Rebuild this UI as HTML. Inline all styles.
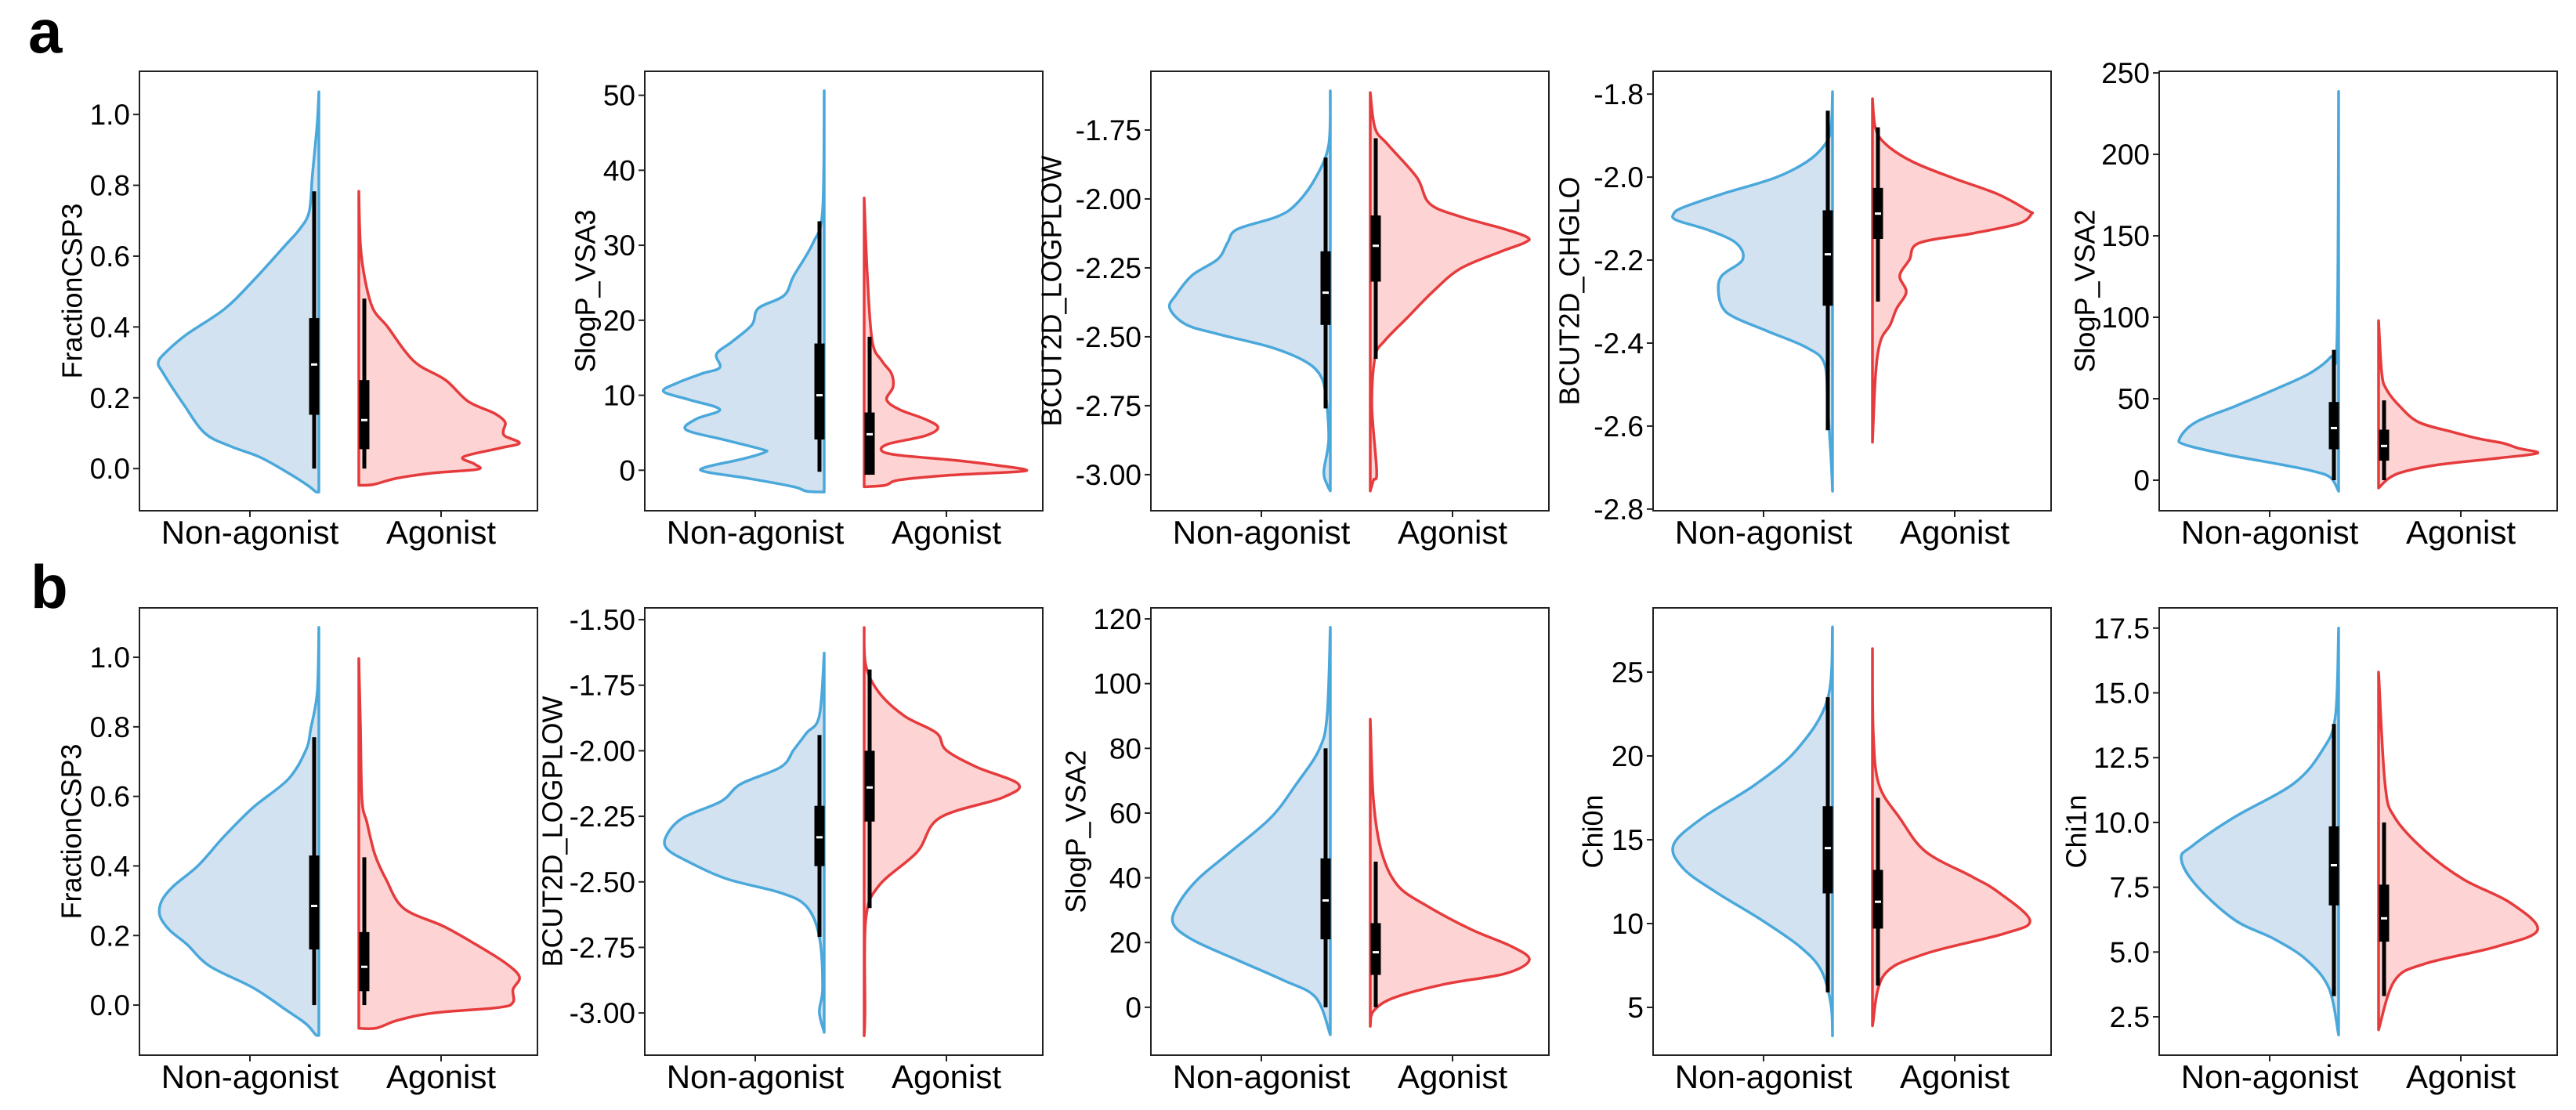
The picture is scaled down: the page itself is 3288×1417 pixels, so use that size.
<!DOCTYPE html>
<html><head><meta charset="utf-8"><style>
html,body{margin:0;padding:0;background:#fff;}
svg{display:block;}
text{font-family:"Liberation Sans",Arial,sans-serif;fill:#000;}
</style></head><body>
<svg id="fig" xmlns="http://www.w3.org/2000/svg" width="3288" height="1417" viewBox="0 0 3288 1417">
<text x="36" y="67" font-size="78" font-weight="bold">a</text>
<text x="39" y="776" font-size="78" font-weight="bold">b</text>
</svg>
<script>
// ---- data: categories, y labels, ticks, density profiles [value, relative width], box stats [lo, q1, med, q3, hi]
const categories = ["Non-agonist", "Agonist"];
const yLabels = ["FractionCSP3","SlogP_VSA3","BCUT2D_LOGPLOW","BCUT2D_CHGLO","SlogP_VSA2","FractionCSP3","BCUT2D_LOGPLOW","SlogP_VSA2","Chi0n","Chi1n"];
const yDomains = [[-0.119,1.122],[-5.4,53.2],[-3.131,-1.537],[-2.804,-1.745],[-18.75,251],[-0.144,1.142],[-3.161,-1.455],[-14.8,123.4],[2.15,28.83],[1.02,18.28]];
const tickValues = [
 [0,0.2,0.4,0.6,0.8,1.0],[0,10,20,30,40,50],[-3,-2.75,-2.5,-2.25,-2,-1.75],[-2.8,-2.6,-2.4,-2.2,-2.0,-1.8],[0,50,100,150,200,250],
 [0,0.2,0.4,0.6,0.8,1.0],[-3,-2.75,-2.5,-2.25,-2,-1.75,-1.5],[0,20,40,60,80,100,120],[5,10,15,20,25],[2.5,5,7.5,10,12.5,15,17.5]];
const tickDecimals = [1,0,2,1,0,1,2,0,0,1];
const blueProfiles = [
 [[1.064,0],[0.976,0.01],[0.83,0.04],[0.726,0.06],[0.676,0.12],[0.63,0.21],[0.53,0.41],[0.45,0.59],[0.38,0.82],[0.33,0.95],[0.30,1.0],[0.27,0.97],[0.18,0.84],[0.10,0.71],[0.063,0.55],[0.033,0.37],[-0.007,0.21],[-0.047,0.07],[-0.065,0.02],[-0.066,0]],
 [[50.6,0],[34.7,0.01],[30.3,0.07],[25.9,0.19],[23.3,0.25],[21.6,0.41],[19.4,0.45],[17.2,0.57],[15.5,0.67],[13.7,0.65],[12.9,0.76],[11.6,0.92],[10.5,1.0],[9.4,0.84],[8.1,0.65],[6.8,0.80],[5.4,0.86],[4.1,0.63],[2.8,0.39],[2.4,0.37],[1.5,0.51],[0.4,0.74],[-0.2,0.74],[-1.1,0.47],[-2.2,0.19],[-2.8,0.11],[-2.9,0]],
 [[-1.608,0],[-1.803,0.01],[-1.922,0.09],[-2.017,0.21],[-2.064,0.33],[-2.11,0.58],[-2.159,0.64],[-2.218,0.70],[-2.277,0.86],[-2.348,0.96],[-2.396,1.0],[-2.455,0.9],[-2.49,0.70],[-2.538,0.37],[-2.585,0.17],[-2.633,0.07],[-2.704,0.03],[-2.87,0.01],[-2.988,0.04],[-3.036,0.02],[-3.059,0]],
 [[-1.794,0],[-1.884,0.01],[-1.923,0.05],[-1.963,0.16],[-2.002,0.36],[-2.041,0.69],[-2.073,0.93],[-2.089,0.99],[-2.104,0.97],[-2.128,0.77],[-2.159,0.60],[-2.199,0.56],[-2.238,0.69],[-2.277,0.71],[-2.317,0.68],[-2.34,0.60],[-2.372,0.40],[-2.411,0.16],[-2.45,0.05],[-2.552,0.03],[-2.67,0.01],[-2.757,0]],
 [[238.6,0],[85.6,0.01],[75.6,0.05],[65.6,0.18],[55.6,0.40],[45.6,0.64],[35.6,0.89],[25.6,0.99],[21.6,0.95],[15.6,0.69],[9.6,0.36],[5.6,0.16],[1.6,0.05],[-6.8,0]],
 [[1.086,0],[0.9,0.01],[0.796,0.05],[0.734,0.08],[0.65,0.19],[0.568,0.41],[0.485,0.59],[0.402,0.75],[0.34,0.91],[0.298,0.98],[0.257,0.99],[0.216,0.93],[0.174,0.82],[0.112,0.68],[0.05,0.41],[-0.012,0.21],[-0.054,0.08],[-0.085,0.02],[-0.087,0]],
 [[-1.627,0],[-1.867,0.03],[-1.932,0.11],[-1.997,0.19],[-2.062,0.27],[-2.127,0.52],[-2.192,0.64],[-2.256,0.88],[-2.321,0.98],[-2.373,0.98],[-2.425,0.84],[-2.49,0.60],[-2.542,0.27],[-2.594,0.11],[-2.71,0.03],[-2.905,0.01],[-2.996,0.03],[-3.074,0]],
 [[117.4,0],[90.1,0.02],[79.6,0.07],[69.1,0.21],[58.6,0.37],[48.1,0.62],[39.8,0.82],[32.4,0.94],[26.1,0.98],[20.9,0.86],[14.6,0.58],[8.3,0.29],[3.0,0.09],[-8.5,0]],
 [[27.7,0],[23.4,0.03],[20.4,0.22],[18.3,0.48],[16.3,0.81],[14.7,0.99],[13.3,0.93],[11.9,0.73],[10.2,0.44],[8.6,0.20],[7.2,0.07],[5.2,0.01],[3.3,0]],
 [[17.5,0],[14.1,0.02],[12.8,0.10],[11.5,0.28],[10.2,0.65],[9.1,0.91],[8.6,0.98],[7.6,0.89],[6.25,0.65],[5.5,0.40],[4.7,0.20],[3.6,0.06],[1.8,0]]];
const redProfiles = [
 [[0.783,0],[0.63,0.01],[0.53,0.04],[0.45,0.09],[0.40,0.18],[0.33,0.29],[0.29,0.38],[0.25,0.54],[0.19,0.68],[0.157,0.84],[0.132,0.91],[0.107,0.90],[0.092,0.91],[0.072,1.0],[0.058,0.88],[0.033,0.65],[0.013,0.72],[-0.002,0.74],[-0.012,0.47],[-0.027,0.24],[-0.045,0.09],[-0.047,0]],
 [[36.3,0],[25.9,0.02],[17.2,0.05],[14.6,0.11],[12.9,0.17],[11.1,0.18],[9.4,0.14],[8.1,0.22],[6.8,0.38],[5.7,0.46],[4.6,0.38],[3.5,0.15],[2.6,0.11],[2.0,0.22],[1.3,0.58],[0.65,0.83],[0.1,1.0],[-0.2,0.95],[-0.65,0.54],[-1.3,0.22],[-2.0,0.13],[-2.2,0]],
 [[-1.614,0],[-1.744,0.03],[-1.803,0.11],[-1.922,0.29],[-2.017,0.37],[-2.064,0.56],[-2.11,0.84],[-2.14,0.98],[-2.159,0.96],[-2.194,0.80],[-2.253,0.56],[-2.336,0.39],[-2.431,0.23],[-2.514,0.09],[-2.573,0.03],[-2.75,0.01],[-2.988,0.04],[-3.02,0.02],[-3.059,0]],
 [[-1.811,0],[-1.884,0.02],[-1.923,0.09],[-1.963,0.25],[-2.002,0.50],[-2.041,0.78],[-2.081,0.97],[-2.089,0.99],[-2.112,0.91],[-2.136,0.62],[-2.159,0.29],[-2.199,0.23],[-2.238,0.17],[-2.277,0.21],[-2.317,0.15],[-2.356,0.11],[-2.395,0.05],[-2.473,0.02],[-2.639,0]],
 [[98,0],[65.6,0.02],[55.6,0.05],[45.6,0.13],[35.6,0.25],[29.6,0.46],[25.6,0.62],[22.6,0.78],[19.6,0.87],[16.6,0.99],[13.6,0.75],[9.6,0.38],[5.6,0.17],[1.6,0.07],[-4.8,0]],
 [[0.996,0],[0.796,0.01],[0.589,0.02],[0.526,0.05],[0.433,0.10],[0.361,0.17],[0.278,0.28],[0.226,0.53],[0.174,0.73],[0.122,0.91],[0.081,1.0],[0.045,0.96],[0.008,0.96],[-0.007,0.87],[-0.023,0.46],[-0.044,0.24],[-0.066,0.11],[-0.067,0]],
 [[-1.53,0],[-1.673,0.01],[-1.776,0.09],[-1.867,0.25],[-1.932,0.45],[-1.997,0.51],[-2.062,0.70],[-2.127,0.96],[-2.179,0.86],[-2.256,0.47],[-2.386,0.33],[-2.516,0.09],[-2.646,0.01],[-2.996,0.005],[-3.087,0]],
 [[89,0],[63.9,0.02],[48.1,0.07],[37.7,0.17],[31.4,0.35],[24,0.63],[18.8,0.88],[14.6,0.99],[10.4,0.84],[7.2,0.47],[3.0,0.15],[-1.2,0.02],[-5.9,0]],
 [[26.4,0],[21.4,0.005],[18.3,0.04],[16.3,0.17],[14.3,0.33],[12.8,0.62],[11.9,0.78],[10.2,0.98],[9.4,0.82],[8.2,0.33],[6.9,0.07],[3.9,0]],
 [[15.8,0],[11.5,0.04],[10.2,0.10],[8.9,0.29],[7.8,0.53],[6.9,0.82],[5.85,0.99],[5.2,0.73],[4.55,0.29],[3.9,0.10],[2.0,0]]];
const blueBox = [[0,0.152,0.294,0.425,0.783],[-0.2,4.1,10.0,16.9,33.2],[-2.76,-2.457,-2.34,-2.19,-1.85],[-2.61,-2.31,-2.186,-2.08,-1.84],[0,19,32,48,80],
 [0,0.16,0.285,0.43,0.77],[-2.71,-2.44,-2.33,-2.21,-1.94],[0,21,33,46,80],[5.9,11.8,14.5,17.0,23.5],[3.3,6.8,8.35,9.85,13.8]];
const redBox = [[0,0.055,0.137,0.25,0.48],[-0.6,-0.6,4.8,7.7,17.8],[-2.58,-2.3,-2.17,-2.06,-1.78],[-2.3,-2.149,-2.088,-2.026,-1.88],[0,12,21,31,49],
 [0,0.04,0.11,0.21,0.425],[-2.6,-2.27,-2.14,-2.0,-1.69],[0,10,17,26,45],[6.3,9.7,11.3,13.2,17.5],[3.3,5.4,6.3,7.6,10.0]];

// ---- layout
const NS = "http://www.w3.org/2000/svg";
const svg = document.getElementById("fig");
const frameLefts = [178,823,1469,2110,2756];
const rowTops = [91,776], rowBottoms = [652,1347];
const frameW = 508, maxHalf = 205;
const labelOffsets = [-86,-76,-127,-107,-95,-87,-118,-96,-77,-106];
function mk(tag, attrs, parent){const e=document.createElementNS(NS,tag);for(const k in attrs)e.setAttribute(k,attrs[k]);(parent||svg).appendChild(e);return e;}
function smoothPath(pts){
  // Catmull-Rom to cubic bezier
  let d = "M"+pts[0][0].toFixed(1)+","+pts[0][1].toFixed(1);
  for(let i=0;i<pts.length-1;i++){
    const p0=pts[Math.max(0,i-1)],p1=pts[i],p2=pts[i+1],p3=pts[Math.min(pts.length-1,i+2)];
    const c1x=p1[0]+(p2[0]-p0[0])/6, c1y=p1[1]+(p2[1]-p0[1])/6;
    const c2x=p2[0]-(p3[0]-p1[0])/6, c2y=p2[1]-(p3[1]-p1[1])/6;
    d+="C"+c1x.toFixed(1)+","+c1y.toFixed(1)+" "+c2x.toFixed(1)+","+c2y.toFixed(1)+" "+p2[0].toFixed(1)+","+p2[1].toFixed(1);
  }
  return d;
}

for (let p=0;p<10;p++){
  const row = p<5?0:1, col = p%5;
  const L = frameLefts[col], R = L+frameW, T = rowTops[row], B = rowBottoms[row];
  const [d0,d1] = yDomains[p];
  const y = v => B - (v-d0)/(d1-d0)*(B-T);
  const g = mk("g",{});
  
  
  const blueEdge = L+229, redEdge = L+280;
  function violin(prof, edge, dir, stroke, fill, nm){
    const pts = prof.map(pt=>[edge+dir*pt[1]*maxHalf, y(pt[0])]);
    let d = smoothPath(pts);
    d += "L"+edge+","+y(prof[prof.length-1][0]).toFixed(1)+"L"+edge+","+y(prof[0][0]).toFixed(1)+"Z";
    const path = mk("path",{d:d,fill:fill,stroke:stroke,"stroke-width":3.5,"stroke-linejoin":"round"},g);
    
    
  }
  violin(blueProfiles[p], blueEdge, -1, "#4aa8db", "#d3e2f0", "violin-non-agonist");
  violin(redProfiles[p], redEdge, 1, "#e63b3d", "#fdd4d3", "violin-agonist");
  function box(st, cx, nm){
    const wh = mk("rect",{x:cx-2.5,y:y(st[4]),width:5,height:y(st[0])-y(st[4]),fill:"#000"},g);
    
    
    const bx = mk("rect",{x:cx-6.5,y:y(st[3]),width:13,height:Math.max(2,y(st[1])-y(st[3])),fill:"#000"},g);
    
    
    const md = mk("rect",{x:cx-4,y:y(st[2])-1.5,width:8,height:3,fill:"#fff"},g);
    
    
  }
  box(blueBox[p], blueEdge-6, "box-non-agonist");
  box(redBox[p], redEdge+7, "box-agonist");
  const fr = mk("rect",{x:L,y:T,width:frameW,height:B-T,fill:"none",stroke:"#222","stroke-width":2},g);
  
  
  tickValues[p].forEach(v=>{
    const yy = y(v);
    const tl = mk("line",{x1:L-8,x2:L,y1:yy,y2:yy,stroke:"#222","stroke-width":2},g);
    
    
    const t = mk("text",{x:L-12,y:yy+13,"font-size":37,"text-anchor":"end"},g);
    t.textContent = v.toFixed(tickDecimals[p]);
    
    
  });
  [L+141, L+385].forEach((cx,i)=>{
    const tl = mk("line",{x1:cx,x2:cx,y1:B,y2:B+8,stroke:"#222","stroke-width":2},g);
    
    
    const t = mk("text",{x:cx,y:B+42,"font-size":42,"text-anchor":"middle"},g);
    t.textContent = categories[i];
    
    
  });
  const lx = L+labelOffsets[p], ly = (T+B)/2;
  const yl = mk("text",{x:lx,y:ly,"font-size":36,"text-anchor":"middle","dominant-baseline":"central",transform:"rotate(-90 "+lx+" "+ly+")"},g);
  yl.textContent = yLabels[p];
  
  
}
</script>
</body></html>
